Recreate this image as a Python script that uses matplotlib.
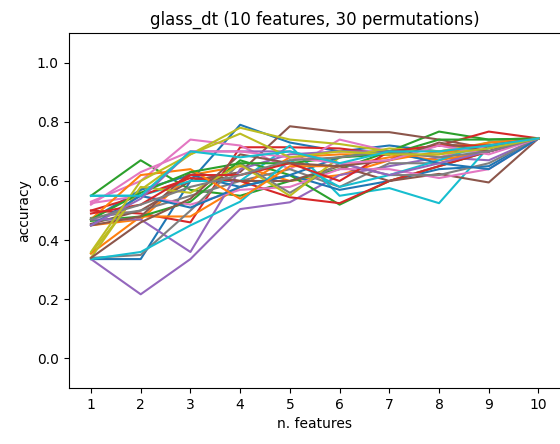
import matplotlib
matplotlib.use("Agg")
import matplotlib.pyplot as plt

n_features = list(range(1, 11))

# accuracy per permutation (30 permutations), one list per line
perm_acc = [
    [0.336, 0.336, 0.600, 0.790, 0.730, 0.700, 0.720, 0.700, 0.700, 0.744],
    [0.450, 0.470, 0.620, 0.650, 0.600, 0.620, 0.670, 0.700, 0.720, 0.744],
    [0.550, 0.670, 0.570, 0.550, 0.600, 0.640, 0.700, 0.767, 0.740, 0.744],
    [0.500, 0.490, 0.460, 0.714, 0.714, 0.710, 0.690, 0.720, 0.767, 0.744],
    [0.336, 0.217, 0.336, 0.505, 0.528, 0.620, 0.650, 0.680, 0.670, 0.744],
    [0.455, 0.500, 0.600, 0.630, 0.785, 0.765, 0.765, 0.740, 0.710, 0.744],
    [0.530, 0.600, 0.740, 0.720, 0.640, 0.740, 0.700, 0.680, 0.720, 0.744],
    [0.475, 0.500, 0.550, 0.600, 0.640, 0.580, 0.660, 0.660, 0.700, 0.744],
    [0.355, 0.570, 0.690, 0.780, 0.740, 0.725, 0.700, 0.720, 0.720, 0.744],
    [0.550, 0.550, 0.600, 0.600, 0.720, 0.550, 0.576, 0.525, 0.715, 0.744],
    [0.470, 0.570, 0.620, 0.580, 0.620, 0.570, 0.600, 0.640, 0.650, 0.744],
    [0.355, 0.480, 0.480, 0.580, 0.680, 0.690, 0.690, 0.670, 0.700, 0.744],
    [0.465, 0.480, 0.530, 0.670, 0.620, 0.520, 0.600, 0.650, 0.700, 0.744],
    [0.500, 0.550, 0.610, 0.600, 0.545, 0.525, 0.600, 0.650, 0.700, 0.744],
    [0.470, 0.470, 0.360, 0.640, 0.690, 0.700, 0.700, 0.720, 0.700, 0.744],
    [0.450, 0.480, 0.630, 0.600, 0.600, 0.650, 0.600, 0.624, 0.595, 0.744],
    [0.525, 0.550, 0.520, 0.570, 0.580, 0.640, 0.640, 0.610, 0.640, 0.744],
    [0.340, 0.350, 0.500, 0.660, 0.560, 0.660, 0.620, 0.620, 0.660, 0.744],
    [0.340, 0.580, 0.560, 0.655, 0.550, 0.680, 0.710, 0.700, 0.730, 0.744],
    [0.336, 0.360, 0.450, 0.530, 0.670, 0.580, 0.620, 0.670, 0.730, 0.744],
    [0.450, 0.550, 0.510, 0.580, 0.620, 0.680, 0.700, 0.660, 0.640, 0.744],
    [0.470, 0.620, 0.640, 0.540, 0.650, 0.650, 0.680, 0.690, 0.730, 0.744],
    [0.470, 0.560, 0.630, 0.660, 0.660, 0.680, 0.690, 0.740, 0.740, 0.744],
    [0.490, 0.520, 0.620, 0.620, 0.660, 0.600, 0.700, 0.720, 0.720, 0.744],
    [0.450, 0.540, 0.700, 0.700, 0.700, 0.660, 0.620, 0.660, 0.700, 0.744],
    [0.340, 0.460, 0.540, 0.690, 0.660, 0.650, 0.670, 0.730, 0.700, 0.744],
    [0.520, 0.630, 0.700, 0.700, 0.680, 0.660, 0.670, 0.720, 0.690, 0.744],
    [0.470, 0.520, 0.580, 0.620, 0.670, 0.680, 0.700, 0.680, 0.700, 0.744],
    [0.360, 0.600, 0.690, 0.760, 0.680, 0.700, 0.690, 0.690, 0.710, 0.744],
    [0.550, 0.550, 0.700, 0.680, 0.700, 0.660, 0.700, 0.700, 0.720, 0.744],
]

fig = plt.figure(figsize=(5.6, 4.44), dpi=100)
ax = fig.add_axes([0.1225, 0.126, 0.879, 0.7995])

for acc in perm_acc:
    ax.plot(n_features, acc)

ax.set_ylim(-0.1, 1.1)
ax.set_xticks(n_features)
ax.set_yticks([0.0, 0.2, 0.4, 0.6, 0.8, 1.0])
ax.set_title("glass_dt (10 features, 30 permutations)")
ax.set_xlabel("n. features")
ax.set_ylabel("accuracy")

fig.savefig("out.png", dpi=100)
